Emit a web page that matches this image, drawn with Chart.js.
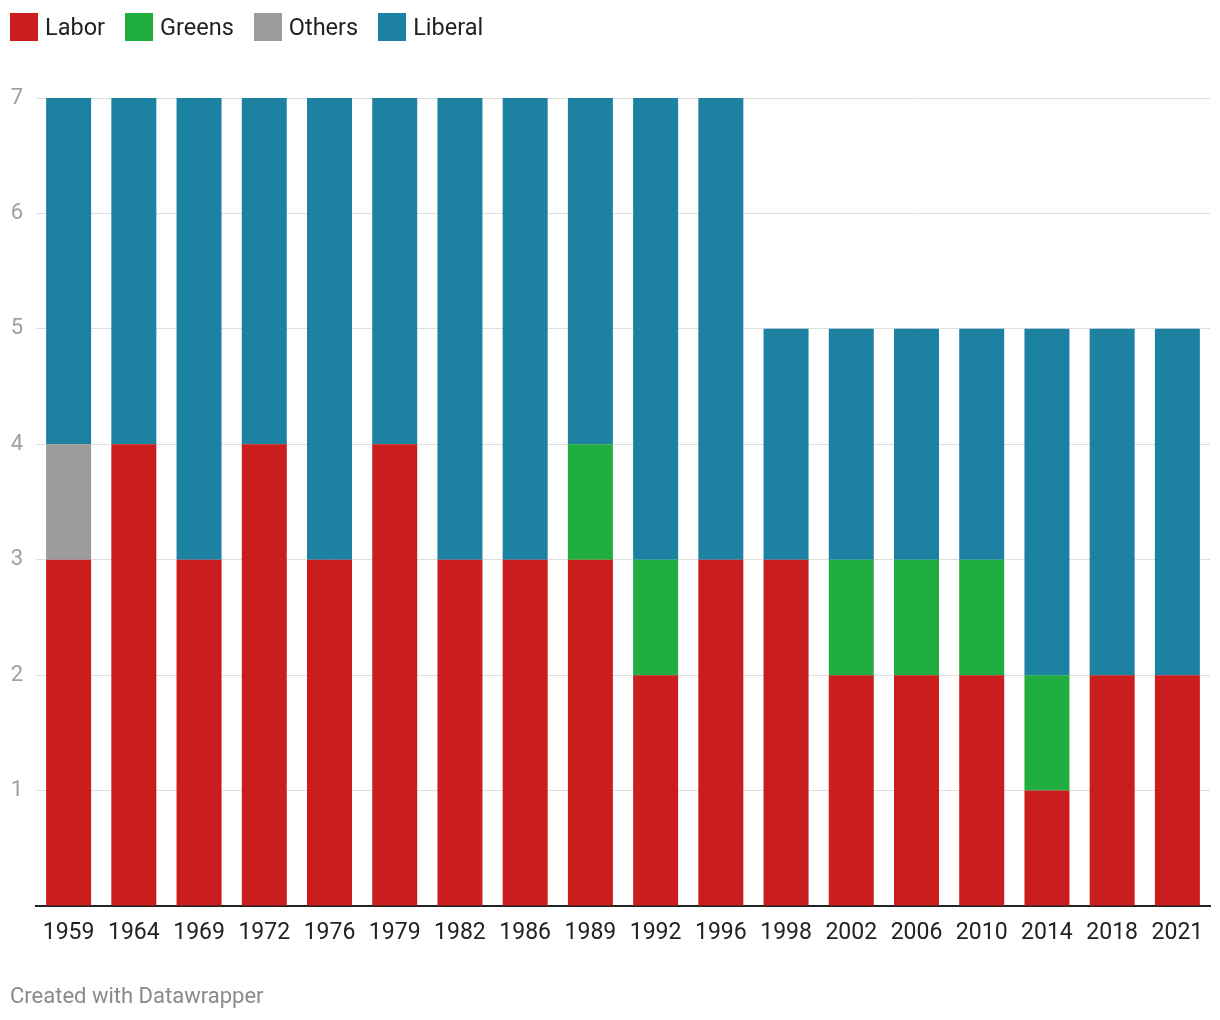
<!DOCTYPE html>
<html>
<head>
<meta charset="utf-8">
<script src="https://cdn.jsdelivr.net/npm/chart.js@4"></script>
<style>
  html, body { margin: 0; padding: 0; background: #fff; }
  body { width: 1220px; height: 1020px; position: relative; overflow: hidden; font-family: Roboto, "Noto Sans", sans-serif; }
  #legend { position: absolute; left: 10px; top: 13px; display: flex; align-items: center; font-size: 23.5px; color: #222; }
  .item { display: flex; align-items: center; margin-right: 20px; }
  .sw { width: 28px; height: 28px; margin-right: 7px; }
  #footer { position: absolute; left: 10px; top: 983px; font-size: 22px; color: #8a8a8a; }
  #wrap { position: absolute; left: 0; top: 0; width: 1220px; height: 1020px; }
</style>
</head>
<body>
<div id="wrap"><canvas id="c" width="1220" height="1020"></canvas></div>
<div id="legend"></div>
<div id="footer">Created with Datawrapper</div>
<script>
const years = ["1959","1964","1969","1972","1976","1979","1982","1986","1989","1992","1996","1998","2002","2006","2010","2014","2018","2021"];
const labor   = [3,4,3,4,3,4,3,3,3,2,3,3,2,2,2,1,2,2];
const greens  = [0,0,0,0,0,0,0,0,1,1,0,0,1,1,1,1,0,0];
const others  = [1,0,0,0,0,0,0,0,0,0,0,0,0,0,0,0,0,0];
const liberal = [3,3,4,3,4,3,4,4,3,4,4,2,2,2,2,3,3,3];
const yTicks = [1,2,3,4,5,6,7];

const series = [
  { label: "Labor", data: labor, color: "#c91d1e" },
  { label: "Greens", data: greens, color: "#21ae40" },
  { label: "Others", data: others, color: "#9b9b9b" },
  { label: "Liberal", data: liberal, color: "#1d81a2" }
];

const legend = document.getElementById('legend');
series.forEach(s => {
  const it = document.createElement('div'); it.className = 'item';
  const sw = document.createElement('div'); sw.className = 'sw'; sw.style.background = s.color;
  const t = document.createElement('span'); t.textContent = s.label;
  it.appendChild(sw); it.appendChild(t); legend.appendChild(it);
});

new Chart(document.getElementById('c'), {
  type: 'bar',
  data: {
    labels: years,
    datasets: series.map(s => ({
      label: s.label, data: s.data, backgroundColor: s.color, borderWidth: 0,
      categoryPercentage: 1.0, barPercentage: 0.69
    }))
  },
  options: {
    responsive: false,
    animation: false,
    layout: { padding: { top: 98, right: 10, left: 0, bottom: 0 } },
    plugins: { legend: { display: false }, tooltip: { enabled: false } },
    scales: {
      x: {
        stacked: true,
        grid: { display: false },
        border: { display: true, color: '#222', width: 2 },
        ticks: { color: '#222', font: { family: 'Roboto', size: 23 }, padding: 5, maxRotation: 0, autoSkip: false },
        afterFit: (a) => { a.height = 114; }
      },
      y: {
        stacked: true,
        min: 0, max: 7,
        afterBuildTicks: (a) => { a.ticks = [0].concat(yTicks).map(v => ({ value: v })); },
        grid: { color: (ctx) => ctx.tick && ctx.tick.value === 0 ? 'rgba(0,0,0,0)' : '#dedede', lineWidth: 1, drawTicks: false },
        border: { display: false },
        ticks: { color: '#a0a0a0', font: { family: 'Roboto', size: 22 }, padding: 13,
                 callback: (v) => v === 0 ? '' : String(v) },
        afterFit: (a) => { a.width = 36; }
      }
    }
  }
});
</script>
</body>
</html>
